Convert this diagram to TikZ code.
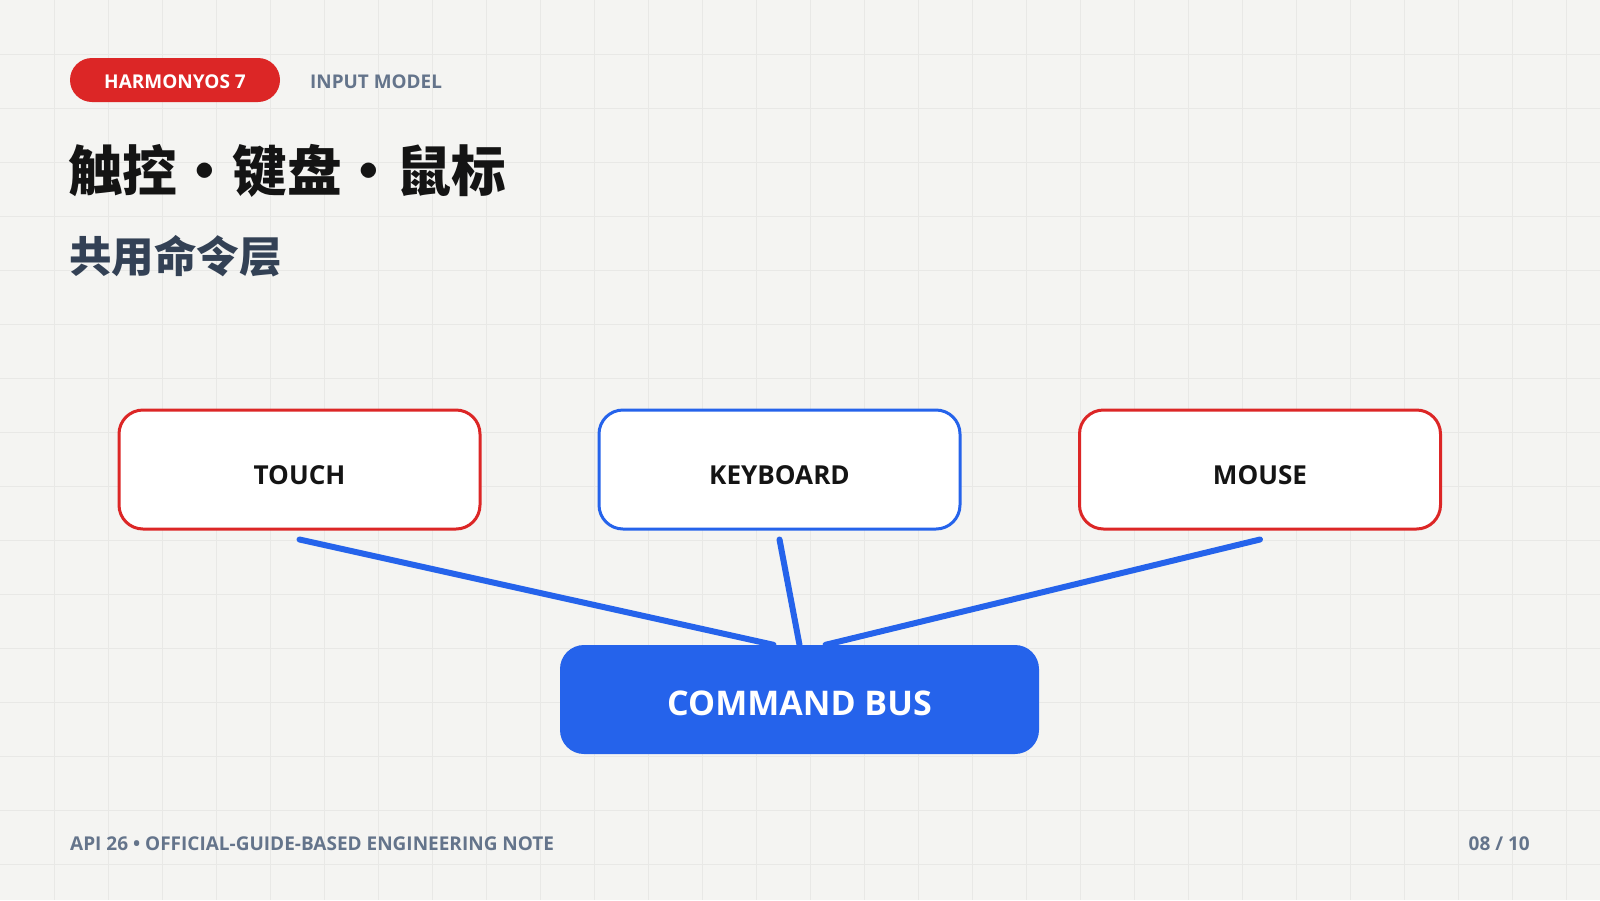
\documentclass[tikz,border=0pt]{standalone}
\usepackage{fontspec}
\setmainfont{Open Sans}
\newfontfamily\cjk{Noto Sans CJK SC}
\definecolor{bgc}{HTML}{F4F4F2}
\definecolor{gridc}{HTML}{E8E8E6}
\definecolor{redc}{HTML}{DC2626}
\definecolor{bluec}{HTML}{2563EB}
\definecolor{slatec}{HTML}{64748B}
\definecolor{titlec}{HTML}{141414}
\definecolor{subc}{HTML}{334155}
\begin{document}
\begin{tikzpicture}[x=1pt,y=-1pt,
  gridline/.style={draw=gridc,line width=1pt},
  pill/.style={fill=redc,rounded corners=22pt,minimum width=210pt,minimum height=44pt,inner sep=0pt,text height=17pt,text depth=0pt,text=white,font=\bfseries\fontsize{19}{19}\selectfont},
  kicker/.style={anchor=west,inner sep=0pt,text=slatec,font=\bfseries\fontsize{18.9}{19}\selectfont},
  inbox/.style={draw=#1,line width=3pt,fill=white,rounded corners=24pt,minimum width=361pt,minimum height=119pt,inner sep=0pt,text height=30.8pt,text depth=0pt,text=titlec,font=\bfseries\fontsize{26.1}{26}\selectfont},
  busbox/.style={fill=bluec,rounded corners=24pt,minimum width=479pt,minimum height=109pt,inner sep=0pt,text height=31.6pt,text depth=0pt,text=white,font=\bfseries\fontsize{34}{34}\selectfont},
  wire/.style={draw=bluec,line width=6pt,line cap=round},
  foot/.style={inner sep=0pt,text=slatec,font=\bfseries\fontsize{19}{19}\selectfont}]
\fill[bgc] (0,0) rectangle (1600,900);
\useasboundingbox (0,0) rectangle (1600,900);
\foreach \x in {54,108,...,1566} \draw[gridline] (\x,0) -- (\x,900);
\foreach \y in {54,108,...,864} \draw[gridline] (0,\y) -- (1600,\y);

\node[pill] (tag) at (175,80) {HARMONYOS 7};
\node[kicker] (sec) at (310,82) {INPUT MODEL};
\node[anchor=west,inner sep=0pt,text=titlec,font=\cjk\bfseries\fontsize{54.7}{55}\selectfont] (title) at (68,171) {触控・键盘・鼠标};
\node[anchor=west,inner sep=0pt,text=subc,font=\cjk\bfseries\fontsize{42.5}{42.5}\selectfont] (sub) at (69,256) {共用命令层};

\node[inbox=redc] (touch) at (299.5,469.5) {TOUCH};
\node[inbox=bluec] (keyb) at (779.5,469.5) {KEYBOARD};
\node[inbox=redc] (mouse) at (1260,469.5) {MOUSE};
\node[busbox] (bus) at (799.5,699.5) {COMMAND BUS};

\coordinate (t1) at ([yshift=-9pt]touch.south);
\coordinate (k1) at ([yshift=-9pt]keyb.south);
\coordinate (m1) at ([yshift=-9pt]mouse.south);
\draw[wire] (t1) -- ([xshift=-26pt]bus.north);
\draw[wire] (k1) -- (bus.north);
\draw[wire] (m1) -- ([xshift=26pt]bus.north);

\node[foot,anchor=west] (ft) at (70,844) {API 26 • OFFICIAL-GUIDE-BASED ENGINEERING NOTE};
\node[foot,anchor=east] (pg) at (1530,844) {08 / 10};
\end{tikzpicture}
\end{document}
